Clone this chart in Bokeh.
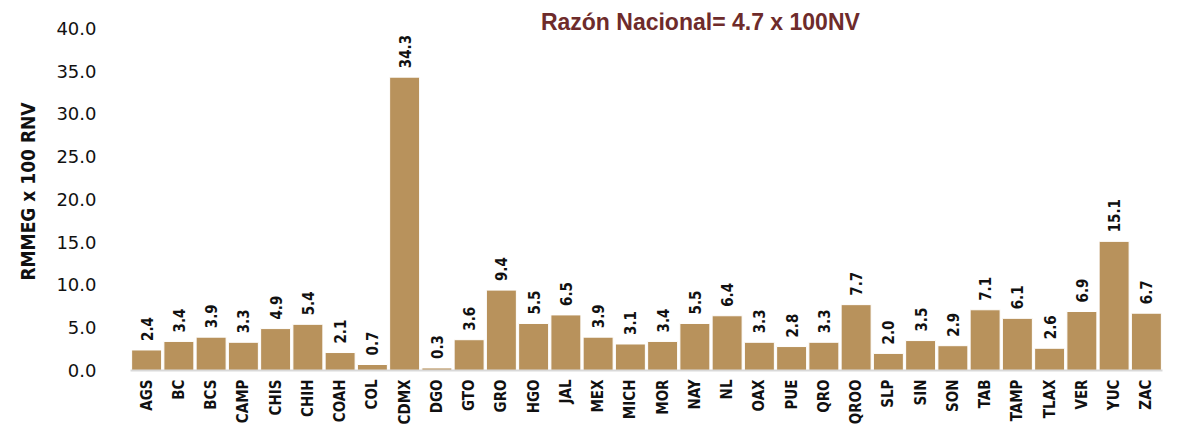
import math
from bokeh.plotting import figure
from bokeh.models import ColumnDataSource, FactorRange, Range1d, Label, NumeralTickFormatter, SingleIntervalTicker
from bokeh.core.properties import value
from bokeh.embed import file_html
from bokeh.resources import INLINE

states = ["AGS", "BC", "BCS", "CAMP", "CHIS", "CHIH", "COAH", "COL", "CDMX", "DGO",
          "GTO", "GRO", "HGO", "JAL", "MEX", "MICH", "MOR", "NAY", "NL", "OAX",
          "PUE", "QRO", "QROO", "SLP", "SIN", "SON", "TAB", "TAMP", "TLAX", "VER",
          "YUC", "ZAC"]
rates = [2.4, 3.4, 3.9, 3.3, 4.9, 5.4, 2.1, 0.7, 34.3, 0.3,
         3.6, 9.4, 5.5, 6.5, 3.9, 3.1, 3.4, 5.5, 6.4, 3.3,
         2.8, 3.3, 7.7, 2.0, 3.5, 2.9, 7.1, 6.1, 2.6, 6.9,
         15.1, 6.7]
title_text = "Razón Nacional= 4.7 x 100NV"
y_label = "RMMEG x 100 RNV"

NARROW = "Liberation Sans Narrow, DejaVu Sans Condensed, sans-serif"
BAR = "#B8925C"

src = ColumnDataSource(dict(x=states, top=rates, lbl=[f"{v:.1f}" for v in rates]))

p = figure(x_range=FactorRange(*states, range_padding=0), y_range=Range1d(0, 41.86),
           width=1189, height=427, output_backend="svg", toolbar_location=None,
           min_border_left=130, min_border_right=27, min_border_top=12, min_border_bottom=55)
p.outline_line_color = None
p.grid.grid_line_color = None

p.vbar(x="x", top="top", width=0.93, source=src, fill_color=BAR,
       line_color="white", line_width=1)
p.text(x="x", y="top", text="lbl", source=src, angle=math.pi / 2,
       text_align="left", text_baseline="middle", y_offset=-9,
       text_font=value(NARROW), text_font_style="bold",
       text_font_size="15px", text_color="#111111")

p.xaxis.axis_line_color = "#D9D9D9"
p.xaxis.axis_line_width = 2
p.xaxis.major_tick_line_color = None
p.xaxis.minor_tick_line_color = None
p.xaxis.major_label_orientation = math.pi / 2
p.xaxis.major_label_text_font = NARROW
p.xaxis.major_label_text_font_style = "bold"
p.xaxis.major_label_text_font_size = "15px"
p.xaxis.major_label_text_color = "#111111"
p.xaxis.major_label_standoff = 3

p.yaxis.ticker = SingleIntervalTicker(interval=5)
p.yaxis.formatter = NumeralTickFormatter(format="0.0")
p.yaxis.axis_line_color = None
p.yaxis.major_tick_line_color = None
p.yaxis.minor_tick_line_color = None
p.yaxis.major_label_text_font = "DejaVu Sans"
p.yaxis.major_label_text_font_size = "18px"
p.yaxis.major_label_text_color = "#111111"
p.yaxis.major_label_standoff = 28
p.yaxis.axis_label = y_label
p.yaxis.axis_label_text_font = NARROW
p.yaxis.axis_label_text_font_style = "bold"
p.yaxis.axis_label_text_font_size = "19px"
p.yaxis.axis_label_text_color = "#111111"
p.yaxis.axis_label_standoff = 14

p.add_layout(Label(x=17.67, y=40.7, text=title_text, text_align="center",
                   text_baseline="middle", text_font="Liberation Sans",
                   text_font_style="bold", text_font_size="23px",
                   text_color="#6E2B2B"))

open("out.html", "w").write(file_html(p, INLINE))
